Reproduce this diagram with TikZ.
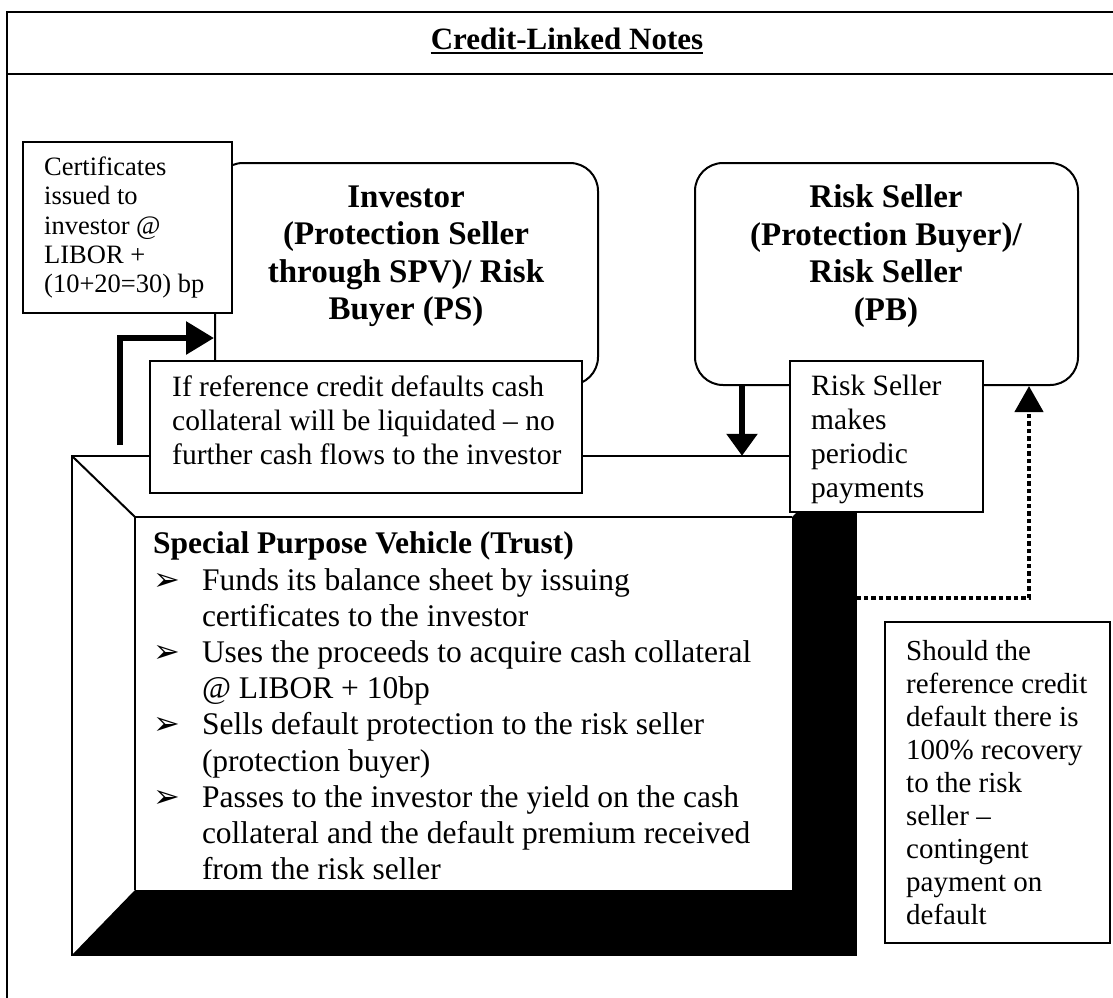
\documentclass[tikz,border=0pt]{standalone}
\usepackage{fontspec}
\setmainfont{Liberation Serif}
\newfontfamily\djv{DejaVu Sans}
\usetikzlibrary{arrows.meta}
\newcommand{\spvbul}{\makebox[49pt][l]{\hspace*{0pt}{\djv\fontsize{32}{32}\selectfont ➢}}}
\newcommand{\spvind}{\hspace*{49pt}}
\begin{document}
\begin{tikzpicture}[x=1pt,y=-1pt,
  frameline/.style={line width=2pt},
  box/.style={draw, line width=2pt, fill=white, inner sep=0pt},
  rbox/.style={draw, line width=2pt, rounded corners=28pt, inner sep=0pt},
  bodytxt/.style={inner sep=0pt, align=left, font=\fontsize{29.5}{34}\selectfont},
  certtxtstyle/.style={inner sep=0pt, align=left, font=\fontsize{26.5}{29.3}\selectfont},
  spvtxtstyle/.style={inner sep=0pt, align=left, font=\fontsize{31.5}{36.2}\selectfont},
  boldtxt/.style={inner sep=0pt, align=center, font=\bfseries\fontsize{33}{37.5}\selectfont},
  flow/.style={line width=6pt, -{Triangle[length=28pt,width=32pt]}},
  flowdown/.style={line width=6pt, -{Triangle[length=22pt,width=30pt]}},
  dotflow/.style={line width=4.5pt, dash pattern=on 4.5pt off 3pt, -{Triangle[length=26pt,width=28pt]}}
]
\clip (0,0) rectangle (1113,997);
\fill[white] (0,0) rectangle (1113,997);

% frame
\draw[frameline] (1130,12) -- (7,12) -- (7,1010);
\draw[frameline] (7,74) -- (1130,74);
\node[inner sep=0pt, anchor=base, font=\bfseries\fontsize{31}{36}\selectfont] (title) at (567,49) {Credit-Linked Notes};
\draw[line width=2pt] ([yshift=-4pt]title.base west) -- ([yshift=-4pt]title.base east);

% SPV 3D box
\node[minimum width=784pt, minimum height=499pt, inner sep=0pt] (spv) at (464,705.5) {};
\node[minimum width=657pt, minimum height=373pt, inner sep=0pt] (face) at (463.5,703.5) {};
\fill[black] (spv.north east) -- (spv.south east) -- (spv.south west) -- (face.south west) -- (face.south east) -- (face.north east) -- cycle;
\draw[line width=2pt] (spv.south west) -- (spv.north west) -- (spv.north east) -- (spv.south east) -- cycle;
\draw[line width=2pt] (spv.north west) -- (face.north west);
\draw[line width=2pt] (face.south west) -- (face.north west) -- (face.north east);
\node[spvtxtstyle, anchor=west] (spvtxt) at ([xshift=18pt, yshift=-2.5pt]face.west) {%
\textbf{Special Purpose Vehicle (Trust)}\\
\spvbul Funds its balance sheet by issuing\\
\spvind certificates to the investor\\
\spvbul Uses the proceeds to acquire cash collateral\\
\spvind @ LIBOR + 10bp\\
\spvbul Sells default protection to the risk seller\\
\spvind (protection buyer)\\
\spvbul Passes to the investor the yield on the cash\\
\spvind collateral and the default premium received\\
\spvind from the risk seller};

% parties
\node[rbox, minimum width=383pt, minimum height=222pt] (inv) at (406.5,274) {};
\node[boldtxt] (invtxt) at (406,256) {Investor\\(Protection Seller\\through SPV)/ Risk\\Buyer (PS)};
\node[rbox, minimum width=383pt, minimum height=222pt] (risk) at (886.5,274) {};
\node[boldtxt] (risktxt) at (886,256) {Risk Seller\\(Protection Buyer)/\\Risk Seller\\(PB)};

% callout boxes
\node[box, minimum width=209pt, minimum height=171pt] (cert) at (127.5,227.5) {};
\node[certtxtstyle, anchor=west] (certtxt) at ([xshift=22pt]cert.west) {Certificates\\issued to\\investor @\\LIBOR +\\(10+20=30) bp};

\node[box, minimum width=432pt, minimum height=132pt] (ifbox) at (366,427) {};
\node[bodytxt, anchor=west] (iftxt) at ([xshift=23pt, yshift=7pt]ifbox.west) {If reference credit defaults cash\\collateral will be liquidated -- no\\further cash flows to the investor};

\node[box, minimum width=193pt, minimum height=151pt] (paybox) at (886.5,436.5) {};
\node[bodytxt, anchor=west] (paytxt) at ([xshift=22pt, yshift=-2.5pt]paybox.west) {Risk Seller\\makes\\periodic\\payments};

\node[box, minimum width=225pt, minimum height=321pt] (should) at (997.5,782.5) {};
\node[bodytxt, anchor=west, font=\fontsize{29}{33.1}\selectfont] (shouldtxt) at ([xshift=22pt]should.west) {Should the\\reference credit\\default there is\\100\% recovery\\to the risk\\seller --\\contingent\\payment on\\default};

% connectors
\coordinate (certsrc) at (120,445);
\coordinate (invin) at (inv.west |- 0,338);
\draw[flow] (certsrc) |- (invin);
\coordinate (paytop) at ([xshift=48pt]risk.south west);
\draw[flowdown] (paytop) -- (paytop |- spv.north);
\coordinate (contsrc) at ([yshift=-142pt]spv.north east);
\coordinate (contend) at ([xshift=335pt]risk.south west);
\draw[dotflow] (contsrc) -| (contend);
\end{tikzpicture}
\end{document}
